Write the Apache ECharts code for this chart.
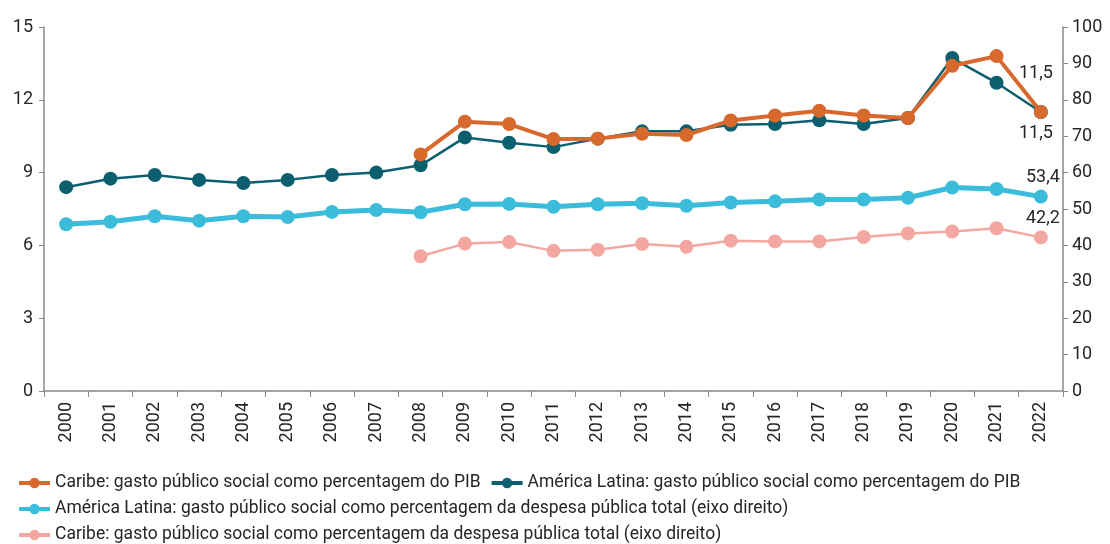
<!DOCTYPE html>
<html>
<head>
<meta charset="utf-8">
<script src="https://cdn.jsdelivr.net/npm/echarts@6/dist/echarts.min.js"></script>
<style>
html,body{margin:0;padding:0;background:#fff;}
#c{width:1110px;height:544px;}
</style>
</head>
<body>
<div id="c"></div>
<script>
const years = ['2000','2001','2002','2003','2004','2005','2006','2007','2008','2009','2010','2011','2012','2013','2014','2015','2016','2017','2018','2019','2020','2021','2022'];
const caribePIB = [null,null,null,null,null,null,null,null,9.75,11.1,11.0,10.38,10.4,10.6,10.55,11.15,11.35,11.55,11.35,11.25,13.4,13.8,11.5];
const alPIB = [8.4,8.75,8.9,8.7,8.57,8.7,8.9,9.0,9.3,10.45,10.23,10.05,10.4,10.7,10.7,10.97,11.0,11.16,11.0,11.25,13.72,12.7,11.5];
const alDespesa = [45.8,46.5,48.0,46.8,48.0,47.8,49.2,49.7,49.1,51.3,51.4,50.6,51.3,51.6,50.9,51.8,52.1,52.6,52.6,53.1,55.9,55.5,53.4];
const caribeDespesa = [null,null,null,null,null,null,null,null,37.0,40.5,40.9,38.5,38.8,40.4,39.6,41.3,41.1,41.1,42.3,43.3,43.8,44.7,42.2];
const leftTicks = {min:0, max:15, interval:3};
const rightTicks = {min:0, max:100, interval:10};
const names = [
  'Caribe: gasto público social como percentagem do PIB',
  'América Latina: gasto público social como percentagem do PIB',
  'América Latina: gasto público social como percentagem da despesa pública total (eixo direito)',
  'Caribe: gasto público social como percentagem da despesa pública total (eixo direito)'
];
const FONT = 'Roboto, "Liberation Sans", sans-serif';
const TXT = '#262626';
const fmt = v => String(v.toFixed(1)).replace('.', ',');
function withEndLabel(arr, labelOpt){
  return arr.map((v,i)=> i===arr.length-1 ? {value:v, label:Object.assign({show:true, formatter:()=>fmt(v), fontSize:18, color:TXT, fontFamily:FONT}, labelOpt)} : v);
}
const chart = echarts.init(document.getElementById('c'), null, {renderer:'canvas'});
const axisLine = {show:true, lineStyle:{color:'#888', width:1.5}};
const legendText = {fontSize:17.5, color:TXT, fontFamily:FONT};
const legendBase = {left:12, itemWidth:31, itemHeight:13, textStyle:legendText, lineStyle:{width:4}};
chart.setOption({
  animation:false,
  textStyle:{fontFamily:FONT},
  grid:{left:44, right:47, top:27, bottom:153, containLabel:false},
  legend:[
    Object.assign({data:[names[0],names[1]], top:469, itemGap:9}, legendBase),
    Object.assign({data:[names[2]], top:495}, legendBase),
    Object.assign({data:[names[3]], top:521}, legendBase)
  ],
  xAxis:{type:'category', data:years, boundaryGap:true,
    axisLine:axisLine, axisTick:{show:true, alignWithLabel:false, length:6, lineStyle:{color:'#888'}},
    axisLabel:{rotate:90, fontSize:18, color:TXT, margin:11, fontFamily:FONT, interval:0}},
  yAxis:[
    {type:'value', min:leftTicks.min, max:leftTicks.max, interval:leftTicks.interval, position:'left',
      axisLine:axisLine, axisTick:{show:true, length:5, lineStyle:{color:'#888'}}, splitLine:{show:false},
      axisLabel:{fontSize:18, color:TXT, margin:11, fontFamily:FONT}},
    {type:'value', min:rightTicks.min, max:rightTicks.max, interval:rightTicks.interval, position:'right',
      axisLine:axisLine, axisTick:{show:true, length:5, lineStyle:{color:'#888'}}, splitLine:{show:false},
      axisLabel:{fontSize:18, color:TXT, margin:9, fontFamily:FONT}}
  ],
  series:[
    {name:names[1], type:'line', yAxisIndex:0, data:withEndLabel(alPIB,{position:'bottom', distance:6, offset:[-5,0]}), z:3,
      symbol:'circle', symbolSize:14, color:'#0B5F6E', lineStyle:{width:2.5, color:'#0B5F6E'}, itemStyle:{color:'#0B5F6E'}},
    {name:names[0], type:'line', yAxisIndex:0, data:withEndLabel(caribePIB,{position:'top', distance:22, offset:[-5,0]}), z:4,
      symbol:'circle', symbolSize:14, color:'#D8692C', lineStyle:{width:4, color:'#D8692C'}, itemStyle:{color:'#D8692C'}},
    {name:names[2], type:'line', yAxisIndex:1, data:withEndLabel(alDespesa,{position:'top', distance:3, offset:[2,0]}), z:2,
      symbol:'circle', symbolSize:14, color:'#3BBCDA', lineStyle:{width:5, color:'#3BBCDA'}, itemStyle:{color:'#3BBCDA'}},
    {name:names[3], type:'line', yAxisIndex:1, data:withEndLabel(caribeDespesa,{position:'top', distance:3, offset:[2,0]}), z:2,
      symbol:'circle', symbolSize:14, color:'#F4A7A1', lineStyle:{width:2.5, color:'#F4A7A1'}, itemStyle:{color:'#F4A7A1'}}
  ]
});
</script>
</body>
</html>
